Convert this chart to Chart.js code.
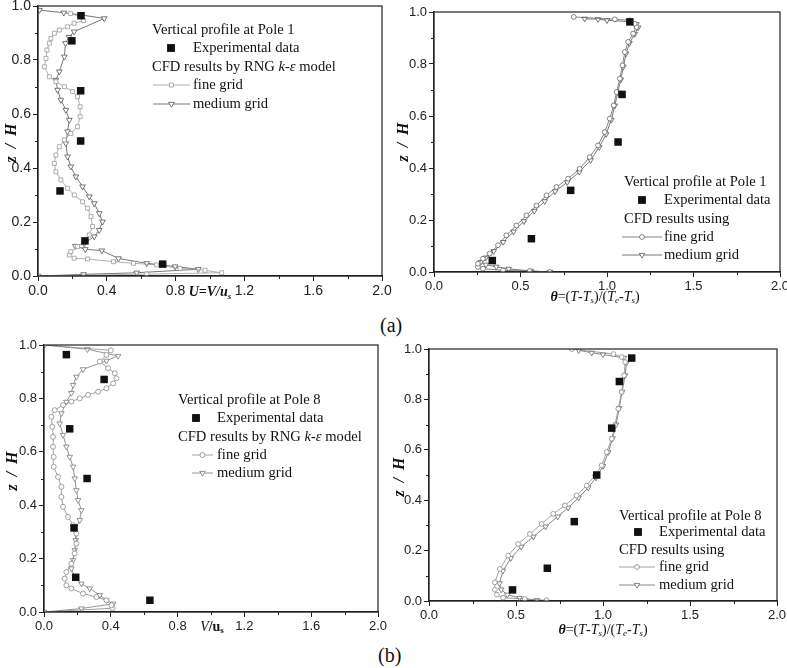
<!DOCTYPE html>
<html>
<head>
<meta charset="utf-8">
<script src="https://cdn.jsdelivr.net/npm/chart.js@4.4.0/dist/chart.umd.min.js"></script>
<style>
  body { margin: 0; background: #fff; width: 787px; height: 668px; overflow: hidden; position: relative; }
  canvas { position: absolute; }
  .tag { position: absolute; font: 20px "Liberation Serif", "Times New Roman", serif; color: #111; }
</style>
</head>
<body>
<div class="tag" style="left:380px;top:314px">(a)</div>
<div class="tag" style="left:378px;top:644px">(b)</div>
<script>
// Tick values
const velTicks = [0, 0.4, 0.8, 1.2, 1.6, 2.0];
const tempTicks = [0, 0.5, 1.0, 1.5, 2.0];
const zTicks = [0, 0.2, 0.4, 0.6, 0.8, 1.0];

// Experimental data (z/H and value)
const expZ = [0.044, 0.13, 0.315, 0.5, 0.686, 0.871, 0.964];
const pole1VelExp = [0.725, 0.273, 0.128, 0.248, 0.248, 0.197, 0.25];
const pole1TempExpZ = [0.044, 0.128, 0.314, 0.5, 0.683, 0.962];
const pole1TempExp = [0.337, 0.563, 0.79, 1.064, 1.087, 1.132];
const pole8VelExp = [0.634, 0.19, 0.18, 0.258, 0.154, 0.36, 0.134];
const pole8TempExp = [0.48, 0.68, 0.835, 0.964, 1.05, 1.094, 1.165];

// Pole 1, velocity, fine grid
const p1VelFineX = [0, 0.632, 1.068, 0.971, 0.826, 0.69, 0.555, 0.439, 0.288, 0.21, 0.182, 0.191, 0.23, 0.269, 0.298, 0.317, 0.308, 0.288, 0.259, 0.211, 0.172, 0.133, 0.104, 0.095, 0.104, 0.124, 0.153, 0.191, 0.23, 0.245, 0.245, 0.23, 0.201, 0.153, 0.104, 0.066, 0.037, 0.046, 0.052, 0.066, 0.075, 0.095, 0.124, 0.172, 0.21, 0.265, 0.24, 0.19];
const p1VelFineZ = [0, 0.007, 0.012, 0.021, 0.028, 0.041, 0.047, 0.053, 0.063, 0.066, 0.078, 0.09, 0.109, 0.127, 0.152, 0.183, 0.22, 0.251, 0.275, 0.3, 0.325, 0.356, 0.386, 0.417, 0.448, 0.479, 0.504, 0.528, 0.553, 0.59, 0.627, 0.664, 0.683, 0.701, 0.72, 0.738, 0.775, 0.806, 0.837, 0.862, 0.88, 0.899, 0.911, 0.923, 0.936, 0.946, 0.962, 0.972];
// Pole 1, velocity, medium grid
const p1VelMedX = [0, 0.265, 0.574, 0.932, 0.797, 0.632, 0.468, 0.371, 0.275, 0.217, 0.269, 0.327, 0.356, 0.375, 0.356, 0.327, 0.298, 0.259, 0.22, 0.191, 0.172, 0.162, 0.172, 0.182, 0.162, 0.133, 0.114, 0.104, 0.124, 0.153, 0.16, 0.18, 0.21, 0.385, 0.25, 0.15, 0.008];
const p1VelMedZ = [0, 0.006, 0.012, 0.025, 0.035, 0.047, 0.065, 0.094, 0.099, 0.111, 0.121, 0.146, 0.17, 0.201, 0.232, 0.269, 0.294, 0.331, 0.368, 0.405, 0.442, 0.491, 0.535, 0.578, 0.615, 0.652, 0.689, 0.726, 0.757, 0.812, 0.862, 0.885, 0.905, 0.954, 0.967, 0.975, 0.985];

// Pole 1, temperature, fine grid
const p1TempFineX = [0.669, 0.553, 0.399, 0.283, 0.254, 0.254, 0.283, 0.322, 0.37, 0.418, 0.476, 0.534, 0.592, 0.65, 0.708, 0.775, 0.842, 0.9, 0.948, 0.987, 1.016, 1.039, 1.055, 1.074, 1.089, 1.103, 1.122, 1.151, 1.17, 1.16, 1.132, 1.045, 0.808];
const p1TempFineZ = [0, 0.004, 0.006, 0.013, 0.019, 0.032, 0.051, 0.071, 0.103, 0.141, 0.179, 0.218, 0.256, 0.295, 0.327, 0.359, 0.397, 0.442, 0.487, 0.538, 0.59, 0.641, 0.692, 0.744, 0.795, 0.846, 0.885, 0.917, 0.942, 0.955, 0.968, 0.972, 0.981];
// Pole 1, temperature, medium grid
const p1TempMedX = [0.67, 0.56, 0.432, 0.36, 0.3, 0.27, 0.3, 0.345, 0.4, 0.46, 0.52, 0.58, 0.64, 0.7, 0.77, 0.84, 0.905, 0.955, 0.995, 1.025, 1.045, 1.062, 1.08, 1.095, 1.11, 1.13, 1.16, 1.18, 1.17, 1.13, 1.0, 0.948, 0.871];
const p1TempMedZ = [0, 0.004, 0.012, 0.02, 0.028, 0.038, 0.055, 0.08, 0.115, 0.155, 0.195, 0.235, 0.272, 0.31, 0.345, 0.385, 0.43, 0.48, 0.53, 0.585, 0.64, 0.69, 0.74, 0.79, 0.84, 0.88, 0.915, 0.94, 0.953, 0.963, 0.968, 0.972, 0.974];

// Pole 8, velocity, fine grid
const p8VelFineX = [0, 0.41, 0.404, 0.374, 0.314, 0.234, 0.164, 0.134, 0.124, 0.134, 0.164, 0.184, 0.194, 0.194, 0.174, 0.144, 0.114, 0.104, 0.104, 0.084, 0.058, 0.058, 0.054, 0.054, 0.05, 0.044, 0.064, 0.114, 0.164, 0.214, 0.264, 0.324, 0.374, 0.414, 0.434, 0.424, 0.384, 0.334, 0.374, 0.4, 0];
const p8VelFineZ = [0, 0.014, 0.025, 0.044, 0.056, 0.069, 0.088, 0.1, 0.125, 0.15, 0.181, 0.219, 0.256, 0.294, 0.325, 0.356, 0.394, 0.431, 0.469, 0.506, 0.544, 0.581, 0.619, 0.656, 0.694, 0.731, 0.756, 0.775, 0.788, 0.8, 0.813, 0.825, 0.838, 0.856, 0.875, 0.894, 0.913, 0.938, 0.963, 0.98, 1.0];
// Pole 8, velocity, medium grid
const p8VelMedX = [0, 0.224, 0.414, 0.374, 0.334, 0.274, 0.224, 0.184, 0.164, 0.174, 0.184, 0.19, 0.184, 0.214, 0.224, 0.204, 0.194, 0.184, 0.174, 0.154, 0.134, 0.114, 0.094, 0.104, 0.134, 0.164, 0.174, 0.194, 0.234, 0.374, 0.444, 0.26, 0];
const p8VelMedZ = [0, 0.013, 0.031, 0.044, 0.063, 0.088, 0.106, 0.131, 0.163, 0.194, 0.231, 0.269, 0.306, 0.344, 0.381, 0.419, 0.456, 0.5, 0.544, 0.581, 0.619, 0.663, 0.706, 0.744, 0.787, 0.82, 0.85, 0.881, 0.909, 0.941, 0.959, 0.984, 1.0];

// Pole 8, temperature, fine grid
const p8TempFineX = [0.676, 0.55, 0.426, 0.39, 0.378, 0.378, 0.407, 0.455, 0.512, 0.58, 0.647, 0.714, 0.781, 0.848, 0.906, 0.954, 0.992, 1.021, 1.05, 1.069, 1.088, 1.107, 1.121, 1.127, 1.107, 1.06, 0.82];
const p8TempFineZ = [0.003, 0.008, 0.013, 0.025, 0.045, 0.074, 0.127, 0.18, 0.226, 0.266, 0.306, 0.346, 0.379, 0.419, 0.458, 0.498, 0.538, 0.591, 0.644, 0.697, 0.763, 0.829, 0.895, 0.948, 0.968, 0.98, 1.0];
// Pole 8, temperature, medium grid
const p8TempMedX = [0.62, 0.52, 0.45, 0.415, 0.405, 0.425, 0.47, 0.53, 0.6, 0.67, 0.74, 0.8, 0.86, 0.915, 0.96, 1.0, 1.03, 1.055, 1.075, 1.093, 1.11, 1.127, 1.135, 1.12, 1.0, 0.935, 0.86];
const p8TempMedZ = [0.003, 0.012, 0.025, 0.045, 0.07, 0.12, 0.17, 0.215, 0.255, 0.295, 0.335, 0.37, 0.41, 0.45, 0.49, 0.535, 0.59, 0.645, 0.7, 0.765, 0.83, 0.895, 0.945, 0.965, 0.978, 0.985, 0.995];

const SERIF = '"Liberation Serif", "Times New Roman", serif';
const SANS = '"Liberation Sans", Arial, sans-serif';
const YW = 50, XH = 50, PAD = 20;

function pts(xs, zs) {
  return xs.map((x, i) => ({ x: x, y: zs[i] }));
}

function drawRich(ctx, parts, x, y, align) {
  let total = 0;
  parts.forEach(p => { ctx.font = p[1]; total += ctx.measureText(p[0]).width; });
  let cx = align === 'center' ? x - total / 2 : x;
  ctx.textAlign = 'left';
  parts.forEach(p => {
    ctx.font = p[1];
    ctx.fillText(p[0], cx, y + (p[2] || 0));
    cx += ctx.measureText(p[0]).width;
  });
}

const fs = n => n + 'px ' + SERIF;
const fi = n => 'italic ' + n + 'px ' + SERIF;
const fbi = n => 'italic bold ' + n + 'px ' + SERIF;

const thetaTitle = [['θ', fbi(14)], ['=(', fs(14)], ['T', fi(14)], ['-', fs(14)], ['T', fi(14)], ['s', fi(9), 4],
  [')/(', fs(14)], ['T', fi(14)], ['e', fi(9), 4], ['-', fs(14)], ['T', fi(14)], ['s', fi(9), 4], [')', fs(14)]];
const rngHeader = [['CFD results by RNG ', fs(14.6)], ['k-ε', fi(14.6)], [' model', fs(14.6)]];

function makePanel(p) {
  const a = p.area;
  const canvas = document.createElement('canvas');
  const w = a.r - a.l + YW + PAD, h = a.b - a.t + PAD + XH;
  const offX = a.l - YW, offY = a.t - PAD;
  canvas.width = w; canvas.height = h;
  canvas.style.left = offX + 'px';
  canvas.style.top = offY + 'px';
  document.body.appendChild(canvas);

  const axisCommon = {
    type: 'linear',
    grid: { drawOnChartArea: false, drawTicks: true, tickLength: 5, color: '#222', tickWidth: 1 },
    border: { display: true, color: '#222', width: 1.2 },
    ticks: { color: '#222', font: { family: SANS, size: p.tickSize }, padding: 2, callback: v => v.toFixed(1) }
  };

  const decor = {
    id: 'decor',
    afterDraw(chart) {
      const ctx = chart.ctx;
      const ca = chart.chartArea;
      const xs = chart.scales.x, ys = chart.scales.y;
      ctx.save();
      // frame
      ctx.strokeStyle = '#222';
      ctx.lineWidth = 1.2;
      ctx.strokeRect(ca.left, ca.top, ca.right - ca.left, ca.bottom - ca.top);
      // minor ticks
      ctx.lineWidth = 1;
      ctx.beginPath();
      for (let v = p.xMinor; v < 2; v += p.xMinor * 2) {
        const px = Math.round(xs.getPixelForValue(v)) + 0.5;
        ctx.moveTo(px, ca.bottom); ctx.lineTo(px, ca.bottom + 3);
      }
      for (let v = 0.1; v < 1; v += 0.2) {
        const py = Math.round(ys.getPixelForValue(v)) + 0.5;
        ctx.moveTo(ca.left, py); ctx.lineTo(ca.left - 3, py);
      }
      ctx.stroke();

      ctx.fillStyle = '#111';
      ctx.textBaseline = 'middle';
      // x title
      drawRich(ctx, p.xTitle, p.xTitlePos[0] - offX, p.xTitlePos[1] - offY, 'center');
      // y title
      ctx.save();
      ctx.translate(p.yTitlePos[0] - offX, p.yTitlePos[1] - offY);
      ctx.rotate(-Math.PI / 2);
      drawRich(ctx, [['z  /  H', fbi(16)]], 0, 0, 'center');
      ctx.restore();

      // legend
      const L = p.legend;
      const lx = L.x - offX;
      ctx.fillStyle = '#111';
      drawRich(ctx, [[L.head, fs(14.6)]], lx, L.y[0] - offY);
      Chart.helpers.drawPoint(ctx, { pointStyle: 'rect', radius: 5.3, borderWidth: 0 }, L.mark - offX, L.y[1] - offY);
      ctx.fillStyle = '#111';
      ctx.fill();
      drawRich(ctx, [['Experimental data', fs(14.6)]], L.text - offX, L.y[1] - offY);
      drawRich(ctx, L.head2, lx, L.y[2] - offY);
      [p.fine, p.med].forEach((s, k) => {
        const yy = L.y[3 + k] - offY;
        ctx.strokeStyle = s.color;
        ctx.lineWidth = 0.8;
        ctx.beginPath();
        ctx.moveTo(L.line[0] - offX, yy); ctx.lineTo(L.line[1] - offX, yy);
        ctx.stroke();
        ctx.fillStyle = '#fff';
        ctx.strokeStyle = s.color;
        Chart.helpers.drawPoint(ctx, { pointStyle: s.style, radius: s.radius, rotation: s.rotation || 0, borderWidth: 0.8 },
          (L.line[0] + L.line[1]) / 2 - offX, yy);
        ctx.fillStyle = '#111';
        drawRich(ctx, [[k === 0 ? 'fine grid' : 'medium grid', fs(14.6)]], L.text - offX, yy);
      });
      ctx.restore();
    }
  };

  const series = s => ({
    data: pts(s.x, s.z),
    showLine: true,
    borderColor: s.color,
    borderWidth: 0.8,
    pointStyle: s.style,
    pointRadius: s.radius,
    pointRotation: s.rotation || 0,
    pointBackgroundColor: '#fff',
    pointBorderColor: s.color,
    pointBorderWidth: 0.8
  });

  new Chart(canvas, {
    type: 'scatter',
    data: {
      datasets: [
        {
          data: pts(p.exp.x, p.exp.z),
          pointStyle: 'rect',
          pointRadius: 5.3,
          pointBackgroundColor: '#111',
          pointBorderWidth: 0
        },
        series(p.fine),
        series(p.med)
      ]
    },
    options: {
      responsive: false,
      animation: false,
      events: [],
      layout: { padding: { top: PAD, right: PAD, left: 0, bottom: 0 } },
      plugins: { legend: { display: false }, tooltip: { enabled: false } },
      scales: {
        x: Object.assign({}, axisCommon, {
          min: 0, max: 2,
          afterBuildTicks: s => { s.ticks = p.xTicks.map(v => ({ value: v })); },
          afterFit: s => { s.height = XH; }
        }),
        y: Object.assign({}, axisCommon, {
          min: 0, max: 1,
          afterBuildTicks: s => { s.ticks = zTicks.map(v => ({ value: v })); },
          afterFit: s => { s.width = YW; }
        })
      }
    },
    plugins: [decor]
  });
}

makePanel({
  area: { l: 38, t: 6, r: 382, b: 276 },
  tickSize: 14, xTicks: velTicks, xMinor: 0.2,
  xTitle: [['U=V/u', fbi(14)], ['s', fbi(9), 5]], xTitlePos: [210, 292],
  yTitlePos: [12, 143],
  exp: { x: pole1VelExp, z: expZ },
  fine: { x: p1VelFineX, z: p1VelFineZ, color: '#9a9a9a', style: 'rect', radius: 2.8 },
  med: { x: p1VelMedX, z: p1VelMedZ, color: '#555', style: 'triangle', radius: 3.3, rotation: 180 },
  legend: { x: 152, y: [30, 48, 67, 85, 104], mark: 171, text: 193, line: [153, 190],
    head: 'Vertical profile at Pole 1', head2: rngHeader }
});

makePanel({
  area: { l: 434, t: 12, r: 780, b: 272 },
  tickSize: 13, xTicks: tempTicks, xMinor: 0.25,
  xTitle: thetaTitle, xTitlePos: [595, 297],
  yTitlePos: [404, 142],
  exp: { x: pole1TempExp, z: pole1TempExpZ },
  fine: { x: p1TempFineX, z: p1TempFineZ, color: '#666', style: 'circle', radius: 2.4 },
  med: { x: p1TempMedX, z: p1TempMedZ, color: '#555', style: 'triangle', radius: 3.2, rotation: 180 },
  legend: { x: 624, y: [182, 200, 219, 237, 255], mark: 642, text: 664, line: [622, 662],
    head: 'Vertical profile at Pole 1', head2: [['CFD results using', fs(14.6)]] }
});

makePanel({
  area: { l: 44, t: 345, r: 378, b: 612 },
  tickSize: 13, xTicks: velTicks, xMinor: 0.2,
  xTitle: [['V', fi(14)], ['/u', 'bold 14px ' + SERIF], ['s', 'bold 9px ' + SERIF, 4]], xTitlePos: [212, 627],
  yTitlePos: [13, 471],
  exp: { x: pole8VelExp, z: expZ },
  fine: { x: p8VelFineX, z: p8VelFineZ, color: '#8a8a8a', style: 'circle', radius: 2.5 },
  med: { x: p8VelMedX, z: p8VelMedZ, color: '#7a7a7a', style: 'triangle', radius: 3.2, rotation: 180 },
  legend: { x: 178, y: [400, 418, 437, 455, 473], mark: 196, text: 217, line: [192, 213],
    head: 'Vertical profile at Pole 8', head2: rngHeader }
});

makePanel({
  area: { l: 429, t: 349, r: 777, b: 601 },
  tickSize: 13, xTicks: tempTicks, xMinor: 0.25,
  xTitle: thetaTitle, xTitlePos: [603, 630],
  yTitlePos: [400, 477],
  exp: { x: pole8TempExp, z: expZ },
  fine: { x: p8TempFineX, z: p8TempFineZ, color: '#8a8a8a', style: 'circle', radius: 2.4 },
  med: { x: p8TempMedX, z: p8TempMedZ, color: '#6a6a6a', style: 'triangle', radius: 3.2, rotation: 180 },
  legend: { x: 619, y: [516, 532, 550, 567, 585], mark: 638, text: 659, line: [619, 655],
    head: 'Vertical profile at Pole 8', head2: [['CFD results using', fs(14.6)]] }
});
</script>
</body>
</html>
